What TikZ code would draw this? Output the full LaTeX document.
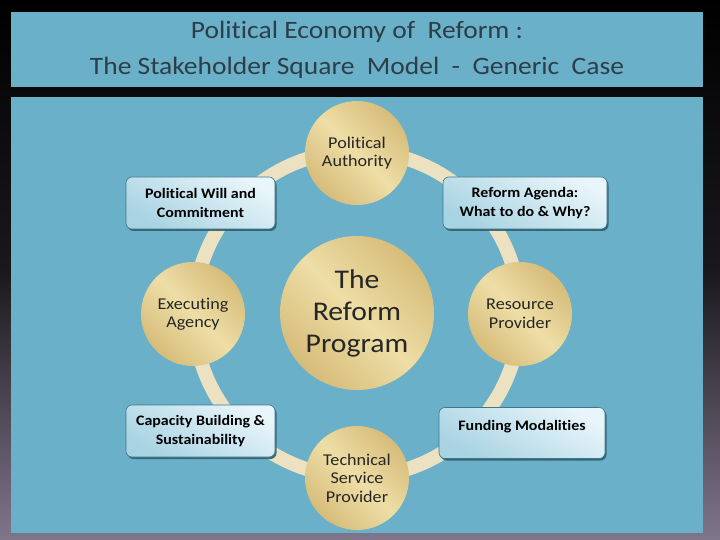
\documentclass[tikz,border=0pt]{standalone}
\usepackage{fontspec}
\setmainfont{Carlito}[FakeStretch=1.1, Ligatures={NoCommon}]
\usetikzlibrary{shadows}
\definecolor{panelblue}{RGB}{106,176,200}
\definecolor{titletext}{RGB}{45,62,72}
\definecolor{ringcol}{RGB}{236,225,192}
\definecolor{goldA}{RGB}{214,188,122}
\definecolor{goldB}{RGB}{238,222,166}
\definecolor{boxA}{RGB}{232,245,250}
\definecolor{boxB}{RGB}{168,211,226}
\definecolor{boxedge}{RGB}{62,118,138}
\definecolor{bgbottom}{RGB}{128,118,140}
\tikzset{
  goldball/.style={circle, inner sep=0pt, left color=goldA, right color=goldA, middle color=goldB, shading angle=135, text=black!85, align=center},
  smallball/.style={goldball, minimum size=104pt, font=\fontsize{16.5}{18.5}\selectfont},
  bigball/.style={goldball, minimum size=154pt, font=\fontsize{27}{32}\selectfont},
  infobox/.style={rounded corners=6pt, inner sep=0pt, align=center, draw=boxedge, line width=0.6pt,
     left color=boxA, right color=boxB, shading angle=-30,
     drop shadow={shadow xshift=1.5pt, shadow yshift=-2pt, fill=boxedge!80!black, opacity=0.9},
     font=\bfseries\fontsize{14.5}{19}\selectfont},
  ringline/.style={draw=ringcol, line width=14pt}
}
\begin{document}
\begin{tikzpicture}[x=1pt,y=-1pt]
\useasboundingbox (0,0) rectangle (720,540);
\shade[top color=black, bottom color=bgbottom, middle color=black!80!bgbottom] (0,0) rectangle (720,540);
% title
\fill[panelblue] (11,12) rectangle (703,87);
\node[font=\fontsize{25}{36}\selectfont, text=titletext, align=center] (title) at (357,50)
  {Political Economy of\ \ Reform :\\The Stakeholder Square\ \ Model\ \ -\ \ Generic\ \ Case};
% panel
\fill[panelblue] (11,97) rectangle (703,533);
% ring
\coordinate (ringc) at (357,314);
\draw[ringline] (ringc) circle (163pt);
% circles
\node[bigball] (prog) at (357,313) {The\\Reform\\Program};
\node[smallball] (auth) at (357,153) {Political\\Authority};
\node[smallball] (exec) at (193,314) {Executing\\Agency};
\node[smallball] (res) at (520,314) {Resource\\Provider};
\node[smallball] (tech) at (357,478) {Technical\\Service\\Provider};
% boxes
\node[infobox, minimum width=149pt, minimum height=52pt] (will) at (200.5,203) {Political Will and\\Commitment};
\node[infobox, minimum width=164pt, minimum height=52pt] (agenda) at (525,203) {Reform Agenda:\\What to do \& Why?};
\node[infobox, minimum width=149pt, minimum height=52pt] (cap) at (200.5,431) {Capacity Building \&\\Sustainability};
\node[infobox, minimum width=166pt, minimum height=51pt, text depth=15pt] (fund) at (522,433) {Funding Modalities};
\end{tikzpicture}
\end{document}
